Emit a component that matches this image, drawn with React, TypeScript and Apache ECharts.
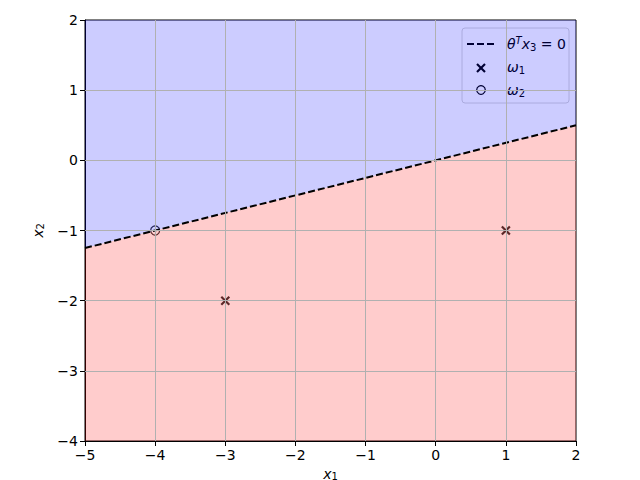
import React, { useEffect, useRef } from "react";
import * as echarts from "echarts";

const boundaryX = [-5, 2];
const boundaryY = [-1.25, 0.5];
const omega1X = [-3, 1];
const omega1Y = [-2, -1];
const omega2X = [-4];
const omega2Y = [-1];
const xTicks = [-5, -4, -3, -2, -1, 0, 1, 2];
const yTicks = [-4, -3, -2, -1, 0, 1, 2];

const FONT = "DejaVu Sans";
const fmt = (v: number) => String(v).replace("-", "\u2212");

export default function App() {
  const ref = useRef<HTMLDivElement>(null);
  useEffect(() => {
    const chart = echarts.init(ref.current!, null, { renderer: "svg" });
    const line = boundaryX.map((x, i) => [x, boundaryY[i]]);
    const rich = {
      i: { fontFamily: FONT, fontStyle: "italic", fontSize: 14, lineHeight: 18, verticalAlign: "middle" },
      n: { fontFamily: FONT, fontSize: 14, lineHeight: 18, verticalAlign: "middle" },
      sub: { fontFamily: FONT, fontSize: 10, lineHeight: 18, verticalAlign: "bottom", padding: [0, 0, 1, 0] },
      sup: { fontFamily: FONT, fontStyle: "italic", fontSize: 10, lineHeight: 18, verticalAlign: "top" },
    };
    const nameRich = {
      i: { fontFamily: FONT, fontStyle: "italic", fontSize: 14, lineHeight: 15, verticalAlign: "middle" },
      sub: { fontFamily: FONT, fontSize: 10, lineHeight: 15, verticalAlign: "bottom" },
    };
    const gridLines = [
      ...xTicks.slice(1, -1).map((v) => ({ xAxis: v })),
      ...yTicks.slice(1, -1).map((v) => ({ yAxis: v })),
    ];
    const axisCommon = {
      axisLine: { show: true, onZero: false, lineStyle: { color: "#000" } },
      axisTick: { show: true, inside: false, length: 5, lineStyle: { color: "#000" } },
      axisLabel: { formatter: fmt, fontFamily: FONT, fontSize: 14, color: "#000", margin: 7 },
      splitLine: { show: false },
    };
    chart.setOption({
      animation: false,
      grid: { left: 85, right: 64, top: 20, bottom: 39, show: true, borderColor: "#000", borderWidth: 1, backgroundColor: "transparent", containLabel: false, outerBoundsMode: "none" },
      xAxis: {
        type: "value", min: xTicks[0], max: xTicks[xTicks.length - 1], interval: 1,
        ...axisCommon,
        name: "{i|x}{sub|1}", nameLocation: "middle", nameGap: 23,
        nameTextStyle: { rich: nameRich },
      },
      yAxis: {
        type: "value", min: yTicks[0], max: yTicks[yTicks.length - 1], interval: 1,
        ...axisCommon,
        name: "{i|x}{sub|2}", nameLocation: "middle", nameGap: 40, nameRotate: 90,
        nameTextStyle: { rich: nameRich },
      },
      series: [
        {
          type: "scatter", z: 1,
          data: omega1X.map((x, i) => [x, omega1Y[i]]),
          symbol: "path://M0,0L10,10M10,0L0,10", symbolSize: 8,
          itemStyle: { color: "transparent", borderColor: "#000", borderWidth: 2.2 },
        },
        {
          type: "scatter", z: 1,
          data: omega2X.map((x, i) => [x, omega2Y[i]]),
          symbol: "circle", symbolSize: 9,
          itemStyle: { color: "transparent", borderColor: "#000", borderWidth: 1.2 },
        },
        {
          type: "line", z: 2, data: line, symbol: "none",
          lineStyle: { width: 0 }, areaStyle: { origin: "end", color: "rgba(0,0,255,0.2)", opacity: 1 },
        },
        {
          type: "line", z: 2, data: line, symbol: "none",
          lineStyle: { width: 0 }, areaStyle: { origin: "start", color: "rgba(255,0,0,0.2)", opacity: 1 },
        },
        {
          type: "line", z: 3, data: [], symbol: "none",
          markLine: {
            silent: true, symbol: "none", label: { show: false },
            lineStyle: { color: "#b0b0b0", width: 1, type: "solid" },
            data: gridLines,
          },
        },
        {
          type: "line", z: 4, data: line, symbol: "none",
          lineStyle: { color: "#000", width: 2, type: [7, 3] },
        },
      ],
      graphic: [
        {
          type: "group", z: 100, children: [
            { type: "rect", shape: { x: 462, y: 28, width: 107, height: 75, r: 3 }, style: { fill: "rgba(255,255,255,0.8)", stroke: "#d6d6d6", lineWidth: 1 } },
            { type: "line", shape: { x1: 467, y1: 44, x2: 495, y2: 44 }, style: { stroke: "#000", lineWidth: 2, lineDash: [7, 3] } },
            { type: "line", shape: { x1: 477, y1: 64, x2: 485, y2: 72 }, style: { stroke: "#000", lineWidth: 2.2 } },
            { type: "line", shape: { x1: 485, y1: 64, x2: 477, y2: 72 }, style: { stroke: "#000", lineWidth: 2.2 } },
            { type: "circle", shape: { cx: 481, cy: 90, r: 4.3 }, style: { fill: "none", stroke: "#000", lineWidth: 1.2 } },
            { type: "text", x: 507, y: 44, style: { text: "{i|θ}{sup|T}{i|x}{sub|3}{n| = 0}", rich, verticalAlign: "middle", fill: "#000" } },
            { type: "text", x: 507, y: 67, style: { text: "{i|ω}{sub|1}", rich, verticalAlign: "middle", fill: "#000" } },
            { type: "text", x: 507, y: 90, style: { text: "{i|ω}{sub|2}", rich, verticalAlign: "middle", fill: "#000" } },
          ],
        },
      ],
    });
    return () => chart.dispose();
  }, []);
  return <div ref={ref} style={{ width: 640, height: 480, position: "absolute", left: 0, top: 0 }} />;
}
